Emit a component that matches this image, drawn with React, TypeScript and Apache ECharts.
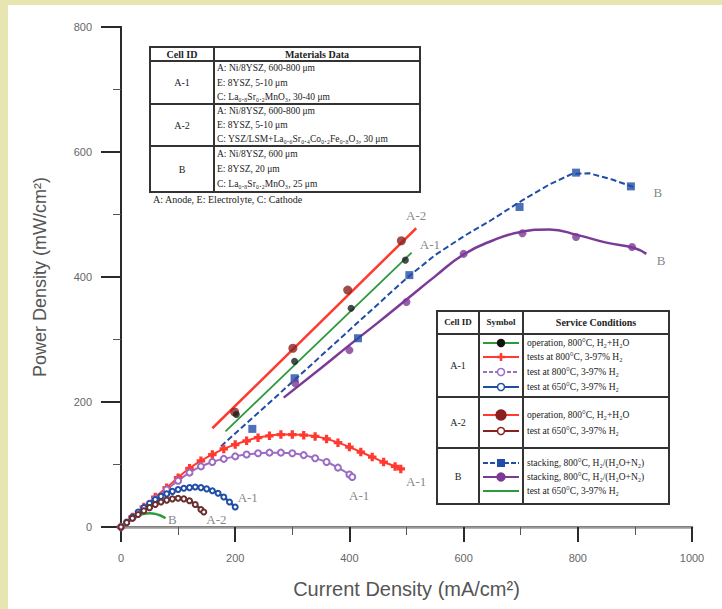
import React, { useEffect, useRef } from "react";
import * as echarts from "echarts";

// ---------- data ----------
const xTickValues = [0, 200, 400, 600, 800, 1000];
const yTickValues = [0, 200, 400, 600, 800];

// A-1 operation, 800°C (green fit line + black points)
const a1OperationLine = [[183, 153], [509, 439]];
const a1OperationPoints = [[202, 180], [304, 265], [403, 350], [498, 427]];
// A-2 operation, 800°C (red fit line + dark red points)
const a2OperationLine = [[160, 158], [517, 478]];
const a2OperationPoints = [[199, 184], [301, 286], [397, 379], [491, 458]];
// B stacking (blue dashed + squares)
const bStackBlueLine = [[175, 129], [300, 232], [400, 315], [500, 398], [550, 435], [600, 465], [650, 492], [700, 521], [750, 548], [790, 565], [820, 566], [860, 556], [900, 543]];
const bStackBluePoints = [[230, 157], [304, 238], [415, 302], [505, 403], [698, 512], [797, 567], [893, 545]];
// B stacking (purple solid + circles)
const bStackPurpleLine = [[285, 207], [350, 254], [400, 291], [450, 327], [500, 364], [550, 401], [600, 436], [650, 458], [700, 472], [750, 476], [800, 467], [850, 455], [900, 446], [920, 437]];
const bStackPurplePoints = [[305, 230], [400, 283], [500, 360], [600, 437], [703, 470], [797, 464], [895, 448]];
// A-1 test 800°C (red, plus markers)
const a1TestRed = [[0, 0], [20, 16], [40, 32], [60, 48], [80, 63], [100, 79], [120, 94], [140, 106], [160, 116], [180, 125], [200, 132], [220, 138], [240, 143], [260, 146], [280, 148], [300, 148], [320, 147], [340, 145], [360, 141], [380, 135], [400, 128], [420, 120], [440, 112], [460, 104], [480, 97], [490, 93]];
// A-1 test 800°C (purple, open circles)
const a1TestPurple = [[0, 0], [20, 15], [40, 30], [60, 45], [80, 60], [100, 74], [120, 87], [140, 97], [160, 104], [180, 109], [200, 113], [220, 116], [240, 118], [260, 119], [280, 119], [300, 118], [320, 115], [340, 110], [360, 104], [380, 95], [400, 84], [405, 80]];
// A-1 test 650°C (blue)
const a1TestBlue = [[0, 0], [10, 8], [20, 16], [30, 24], [40, 31], [50, 38], [60, 44], [70, 49], [80, 53], [90, 57], [100, 60], [110, 62], [120, 63], [130, 64], [140, 63], [150, 61], [160, 58], [170, 54], [180, 48], [190, 40], [200, 32]];
// A-2 test 650°C (brown)
const a2TestBrown = [[0, 0], [10, 7], [20, 14], [30, 20], [40, 26], [50, 31], [60, 36], [70, 40], [80, 43], [90, 45], [100, 46], [110, 45], [120, 42], [130, 36], [140, 28], [145, 24]];
// B test 650°C (green)
const bTestGreen = [[0, 0], [10, 7], [20, 13], [30, 18], [40, 21], [50, 22], [60, 21], [70, 18], [78, 14]];

const curveLabelNames = ["A-2", "A-1", "B", "B", "A-1", "A-1", "A-1", "A-2", "B"];
const curveLabelPositions = [[517, 498], [541, 452], [940, 536], [946, 426], [517, 73], [417, 51], [222, 48], [167, 12], [90, 12]];

const materialsHeader = ["Cell ID", "Materials Data"];
const materialsCells = ["A-1", "A-2", "B"];
const materialsLines = [
  ["A: Ni/8YSZ, 600-800 μm", "E: 8YSZ, 5-10 μm", "C: La₀.₈Sr₀.₂MnO₃, 30-40 μm"],
  ["A: Ni/8YSZ, 600-800 μm", "E: 8YSZ, 5-10 μm", "C: YSZ/LSM+La₀.₆Sr₀.₄Co₀.₂Fe₀.₈O₃, 30 μm"],
  ["A: Ni/8YSZ, 600 μm", "E: 8YSZ, 20 μm", "C: La₀.₈Sr₀.₂MnO₃, 25 μm"],
];
const materialsCaption = "A: Anode, E: Electrolyte, C: Cathode";

const legendHeader = ["Cell ID", "Symbol", "Service Conditions"];
const legendCells = ["A-1", "A-2", "B"];
const legendTexts = [
  ["operation, 800°C, H₂+H₂O", "tests at 800°C, 3-97% H₂", "test at 800°C, 3-97% H₂", "test at 650°C, 3-97% H₂"],
  ["operation, 800°C, H₂+H₂O", "test at 650°C, 3-97% H₂"],
  ["stacking, 800°C, H₂/(H₂O+N₂)", "stacking, 800°C, H₂/(H₂O+N₂)", "test at 650°C, 3-97% H₂"],
];

// ---------- styles ----------
const C = {
  green: "#2e9a3e",
  red: "#ff3a30",
  darkRed: "#8a2020",
  blue: "#1f4ea6",
  purple: "#7b3a96",
  lavender: "#9a6cc4",
  brown: "#6a2e2e",
  gray: "#666",
  axis: "#2a2a2a",
};
const plusPath = "path://M3,0H5V3H8V5H5V8H3V5H0V3H3Z";
const serif = '"Liberation Serif", "DejaVu Serif", serif';

function buildGraphics() {
  const els: any[] = [];
  // yellow strips
  els.push({ type: "rect", shape: { x: 0, y: 0, width: 8, height: 609 }, style: { fill: "#e7e5b0" }, z: 100 });
  els.push({ type: "rect", shape: { x: 0, y: 0, width: 722, height: 5 }, style: { fill: "#e7e5b0" }, z: 100 });

  const txt = (text: string, x: number, y: number, align = "left", size = 10, weight = "normal", fill = "#222") => ({
    type: "text",
    x,
    y,
    z: 60,
    style: { text, fill, fontSize: size, fontFamily: serif, fontWeight: weight, textAlign: align, textVerticalAlign: "middle" },
  });
  const ln = (x1: number, y1: number, x2: number, y2: number, stroke = "#333", w = 2, dash: any = null) => ({
    type: "line",
    z: 58,
    shape: { x1, y1, x2, y2 },
    style: { stroke, lineWidth: w, lineDash: dash },
  });

  // ---- materials table ----
  const mx0 = 150, mx1 = 214, mx2 = 420;
  const mRows = [47, 61, 104, 146, 192];
  els.push({ type: "rect", z: 55, shape: { x: mx0, y: mRows[0], width: mx2 - mx0, height: mRows[4] - mRows[0] }, style: { fill: "#fff", stroke: "#333", lineWidth: 2 } });
  els.push(ln(mx1, mRows[0], mx1, mRows[4]));
  for (let i = 1; i < 4; i++) els.push(ln(mx0, mRows[i], mx2, mRows[i]));
  els.push(txt(materialsHeader[0], (mx0 + mx1) / 2, 54, "center", 10, "bold"));
  els.push(txt(materialsHeader[1], (mx1 + mx2) / 2, 54, "center", 10, "bold"));
  materialsCells.forEach((c, i) => {
    const top = mRows[i + 1], bot = mRows[i + 2];
    els.push(txt(c, (mx0 + mx1) / 2, (top + bot) / 2, "center", 10));
    const step = (bot - top) / 3;
    materialsLines[i].forEach((t, j) => els.push(txt(t, mx1 + 3, top + step * (j + 0.5), "left", 9.5)));
  });
  els.push(txt(materialsCaption, 153, 199, "left", 10));

  // ---- legend table ----
  const lx0 = 437, lx1 = 479, lx2 = 523, lx3 = 669;
  const lRows = [311, 334, 397, 448, 504];
  els.push({ type: "rect", z: 55, shape: { x: lx0, y: lRows[0], width: lx3 - lx0, height: lRows[4] - lRows[0] }, style: { fill: "#fff", stroke: "#333", lineWidth: 2 } });
  els.push(ln(lx1, lRows[0], lx1, lRows[4]));
  els.push(ln(lx2, lRows[0], lx2, lRows[4]));
  for (let i = 1; i < 4; i++) els.push(ln(lx0, lRows[i], lx3, lRows[i]));
  els.push(txt(legendHeader[0], (lx0 + lx1) / 2, 322, "center", 9, "bold"));
  els.push(txt(legendHeader[1], (lx1 + lx2) / 2, 322, "center", 9, "bold"));
  els.push(txt(legendHeader[2], (lx2 + lx3) / 2, 322, "center", 10, "bold"));

  const symStyles = [
    [
      { line: C.green, dash: null, marker: "circle", fill: "#111", r: 3.5 },
      { line: C.red, dash: null, marker: "plus", fill: C.red, r: 4 },
      { line: C.lavender, dash: [4, 2], marker: "circle", fill: "#fff", stroke: C.lavender, r: 3.5 },
      { line: C.blue, dash: null, marker: "circle", fill: "#fff", stroke: C.blue, r: 3.5 },
    ],
    [
      { line: C.red, dash: null, marker: "circle", fill: C.darkRed, r: 5 },
      { line: C.darkRed, dash: null, marker: "circle", fill: "#fff", stroke: C.darkRed, r: 3.5 },
    ],
    [
      { line: C.blue, dash: [5, 2], marker: "square", fill: C.blue, r: 4 },
      { line: C.purple, dash: null, marker: "circle", fill: C.purple, r: 4 },
      { line: C.green, dash: null, marker: "none", fill: C.green, r: 0 },
    ],
  ];
  const entryY = [[343, 357, 372, 387], [415, 431], [463, 477, 491]];
  legendCells.forEach((c, i) => {
    els.push(txt(c, (lx0 + lx1) / 2, (lRows[i + 1] + lRows[i + 2]) / 2, "center", 10));
    legendTexts[i].forEach((t, j) => {
      const y = entryY[i][j];
      const s: any = symStyles[i][j];
      const cx = (lx1 + lx2) / 2;
      els.push(ln(lx1 + 4, y, lx2 - 4, y, s.line, 2, s.dash));
      if (s.marker === "circle") {
        els.push({ type: "circle", z: 59, shape: { cx, cy: y, r: s.r }, style: { fill: s.fill, stroke: s.stroke || s.fill, lineWidth: 1.5 } });
      } else if (s.marker === "square") {
        els.push({ type: "rect", z: 59, shape: { x: cx - s.r, y: y - s.r, width: 2 * s.r, height: 2 * s.r }, style: { fill: s.fill } });
      } else if (s.marker === "plus") {
        els.push(ln(cx - s.r, y, cx + s.r, y, s.fill, 2.5));
        els.push(ln(cx, y - s.r, cx, y + s.r, s.fill, 2.5));
      }
      els.push(txt(t, lx2 + 4, y, "left", 9.5));
    });
  });
  return els;
}

export default function App() {
  const ref = useRef<HTMLDivElement>(null);
  useEffect(() => {
    if (!ref.current) return;
    const chart = echarts.init(ref.current, null, { renderer: "svg" });
    const fitLine = (name: string, data: number[][], color: string, width: number, type: any = "solid") => ({
      name, type: "line", data, showSymbol: false, smooth: false, z: 3,
      lineStyle: { color, width, type }, itemStyle: { color },
    });
    const curve = (name: string, data: number[][], color: string, symbol: string, size: number, width = 2) => ({
      name, type: "line", data, smooth: true, symbol, symbolSize: size, showSymbol: symbol !== "none", z: 4,
      lineStyle: { color, width }, itemStyle: { color, borderColor: color, borderWidth: 1.5 },
    });
    const points = (name: string, data: number[][], color: string, symbol: string, size: number) => ({
      name, type: "scatter", data, symbol, symbolSize: size, z: 5, itemStyle: { color },
    });
    chart.setOption({
      animation: false,
      backgroundColor: "#ffffff",
      grid: { left: 121, right: 30, top: 27, bottom: 82 },
      xAxis: [
        {
          type: "value", min: 0, max: 1000, interval: 200,
          name: "Current Density (mA/cm²)", nameLocation: "middle", nameGap: 52,
          nameTextStyle: { color: "#555", fontSize: 20, fontFamily: "Liberation Sans, Arial, sans-serif" },
          axisLine: { show: true, onZero: false, lineStyle: { color: C.axis, width: 2 } },
          axisTick: { show: true, inside: false, length: 15, lineStyle: { color: C.axis, width: 2 } },
          minorTick: { show: true, splitNumber: 2, length: 8, lineStyle: { color: "#555", width: 1 } },
          axisLabel: { color: "#666", fontSize: 11, margin: 25, fontFamily: "Liberation Sans, Arial, sans-serif",
            formatter: (v: number) => (xTickValues.includes(v) ? String(v) : "") },
          splitLine: { show: false },
        },
        {
          type: "value", position: "top", min: 0, max: 1000,
          axisLine: { show: true, lineStyle: { color: "#9a9a9a", width: 2.5 } },
          axisTick: { show: false }, axisLabel: { show: false }, splitLine: { show: false },
        },
      ],
      yAxis: [
        {
          type: "value", min: 0, max: 800, interval: 200,
          name: "Power Density (mW/cm²)", nameLocation: "middle", nameGap: 72,
          nameTextStyle: { color: "#555", fontSize: 18, fontFamily: "Liberation Sans, Arial, sans-serif" },
          axisLine: { show: true, onZero: false, lineStyle: { color: C.axis, width: 2 } },
          axisTick: { show: true, length: 20, lineStyle: { color: C.axis, width: 2 } },
          minorTick: { show: true, splitNumber: 2, length: 8, lineStyle: { color: "#555", width: 1 } },
          axisLabel: { color: "#666", fontSize: 11, margin: 29, fontFamily: "Liberation Sans, Arial, sans-serif",
            formatter: (v: number) => (yTickValues.includes(v) ? String(v) : "") },
          splitLine: { show: false },
        },
        {
          type: "value", position: "right", min: 0, max: 800,
          axisLine: { show: true, lineStyle: { color: C.axis, width: 2 } },
          axisTick: { show: false }, axisLabel: { show: false }, splitLine: { show: false },
        },
      ],
      series: [
        fitLine("A-2 operation", a2OperationLine, C.red, 2.5),
        fitLine("A-1 operation", a1OperationLine, C.green, 1.8),
        fitLine("B stacking blue", bStackBlueLine, C.blue, 2, [6, 3]),
        { ...fitLine("B stacking purple", bStackPurpleLine, C.purple, 2.5), smooth: true },
        points("A-2 operation pts", a2OperationPoints, C.darkRed, "circle", 9),
        points("A-1 operation pts", a1OperationPoints, "#1b1b1b", "circle", 7),
        points("B blue pts", bStackBluePoints, C.blue, "rect", 8),
        points("B purple pts", bStackPurplePoints, C.purple, "circle", 8),
        curve("A-1 test red", a1TestRed, C.red, plusPath, 7, 2),
        curve("A-1 test purple", a1TestPurple, C.lavender, "emptyCircle", 6, 2),
        curve("A-1 test blue", a1TestBlue, C.blue, "emptyCircle", 5, 2.5),
        curve("A-2 test brown", a2TestBrown, C.brown, "emptyCircle", 5, 2.5),
        curve("B test green", bTestGreen, C.green, "none", 0, 2.5),
        {
          name: "labels", type: "scatter", symbolSize: 0, z: 6,
          data: curveLabelNames.map((n, i) => ({ name: n, value: curveLabelPositions[i] })),
          label: { show: true, position: "inside", formatter: "{b}", color: "#666", fontSize: 13, fontFamily: serif },
        },
      ],
      graphic: buildGraphics(),
    });
    return () => chart.dispose();
  }, []);
  return <div ref={ref} style={{ position: "fixed", left: 0, top: 0, width: 722, height: 609 }} />;
}
